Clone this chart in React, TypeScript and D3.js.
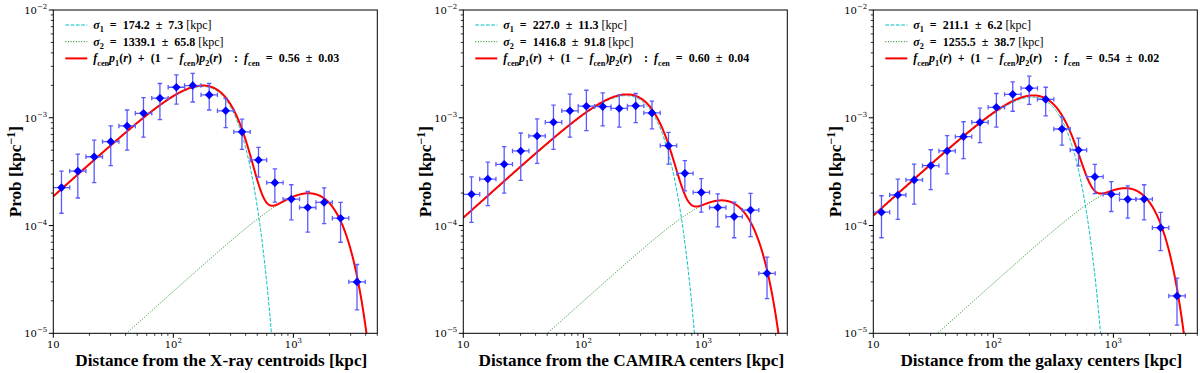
import React from "react";
import * as d3 from "d3";

// radial bins (kpc), shared by the three panels
const binEdges = [10, 13.7, 18.7, 25.7, 35.2, 48.2, 66.1, 90.5, 124, 170, 233, 319, 437, 599, 821, 1125, 1541, 2112, 2894, 3966];
const binCenters = [11.7, 16.0, 21.9, 30.1, 41.2, 56.4, 77.3, 106, 145, 199, 273, 373, 512, 701, 961, 1317, 1804, 2472, 3388];

// measured probability and errors
const xrayProb = [2.25e-4, 3.2e-4, 4.35e-4, 6.0e-4, 8.4e-4, 1.1e-3, 1.52e-3, 1.92e-3, 1.99e-3, 1.63e-3, 1.16e-3, 7.4e-4, 4.06e-4, 2.5e-4, 1.76e-4, 1.47e-4, 1.64e-4, 1.17e-4, 3.0e-5];
const xrayErr = [0.95e-4, 1.4e-4, 1.85e-4, 2.4e-4, 3.4e-4, 4.4e-4, 5.6e-4, 5.8e-4, 5.9e-4, 4.5e-4, 3.5e-4, 2.3e-4, 1.25e-4, 0.85e-4, 0.63e-4, 0.6e-4, 0.6e-4, 0.47e-4, 1.35e-5];
const camiraProb = [1.95e-4, 2.7e-4, 3.7e-4, 4.92e-4, 6.78e-4, 9.08e-4, 1.16e-3, 1.28e-3, 1.27e-3, 1.22e-3, 1.29e-3, 1.11e-3, 5.51e-4, 3.05e-4, 2.03e-4, 1.47e-4, 1.21e-4, 1.39e-4, 3.6e-5];
const camiraErr = [0.88e-4, 1.17e-4, 1.7e-4, 2.3e-4, 3.0e-4, 4.0e-4, 5.0e-4, 5.2e-4, 4.3e-4, 4.0e-4, 3.9e-4, 3.2e-4, 1.8e-4, 0.95e-4, 0.7e-4, 0.5e-4, 0.44e-4, 0.6e-4, 1.5e-5];
const galaxyProb = [1.33e-4, 1.92e-4, 2.65e-4, 3.6e-4, 4.92e-4, 6.68e-4, 9.08e-4, 1.25e-3, 1.65e-3, 1.88e-3, 1.48e-3, 7.87e-4, 5.02e-4, 2.84e-4, 1.95e-4, 1.75e-4, 1.76e-4, 9.55e-5, 2.22e-5];
const galaxyErr = [0.56e-4, 0.78e-4, 1.07e-4, 1.45e-4, 1.9e-4, 2.5e-4, 3.2e-4, 4.3e-4, 5.0e-4, 5.5e-4, 4.4e-4, 2.3e-4, 1.45e-4, 0.86e-4, 0.6e-4, 0.58e-4, 0.63e-4, 0.37e-4, 1.03e-5];

// fitted parameters (from the legends)
const sigma1 = [174.2, 227.0, 211.1];
const sigma1Err = [7.3, 11.3, 6.2];
const sigma2 = [1339.1, 1416.8, 1255.5];
const sigma2Err = [65.8, 91.8, 38.7];
const fcen = [0.56, 0.6, 0.54];
const fcenErr = [0.03, 0.04, 0.02];

const xLabels = [
  "Distance from the X-ray centroids [kpc]",
  "Distance from the CAMIRA centers [kpc]",
  "Distance from the galaxy centers [kpc]",
];
const probs = [xrayProb, camiraProb, galaxyProb];
const errs = [xrayErr, camiraErr, galaxyErr];

const xTicks = [10, 100, 1000];
const yTicks = [1e-5, 1e-4, 1e-3, 1e-2];

const panelLeft = [53.3, 463.3, 873.3];
const plotW = 324;
const plotTop = 10;
const plotH = 323.3;
const serif = "'Liberation Serif', 'DejaVu Serif', serif";
const tickFont = "'DejaVu Serif', serif";
const sp = "\u2002"; // wider math spacing around operators

// 2D gaussian offset distribution
const rayleigh = (r: number, s: number) => (r / (s * s)) * Math.exp(-(r * r) / (2 * s * s));

type Part = { t: string; sub?: string; it?: boolean; normal?: boolean };

const MathText = ({ parts, size }: { parts: Part[]; size: number }) => {
  const out: any[] = [];
  const shift = size * 0.28;
  let pending = 0;
  parts.forEach((p, i) => {
    out.push(
      <tspan
        key={"m" + i}
        dy={pending || undefined}
        fontStyle={p.it ? "italic" : "normal"}
        fontWeight={p.normal ? "normal" : "bold"}
      >
        {p.t}
      </tspan>
    );
    pending = 0;
    if (p.sub) {
      out.push(
        <tspan key={"s" + i} fontSize={size * 0.68} dy={shift} fontWeight="bold" fontStyle="normal">
          {p.sub}
        </tspan>
      );
      pending = -shift;
    }
  });
  return <>{out}</>;
};

const Panel = ({ idx }: { idx: number }) => {
  const x = d3.scaleLog().domain([10, 5000]).range([0, plotW]);
  const y = d3.scaleLog().domain([1e-5, 1e-2]).range([plotH, 0]);
  const s1 = sigma1[idx];
  const s2 = sigma2[idx];
  const f = fcen[idx];

  const rs = d3.range(0, 801).map((i) => 10 * Math.pow(500, i / 800));
  const yy = (v: number) => y(Math.max(v, 1e-9));
  const line = d3
    .line<number[]>()
    .x((d) => x(d[0]))
    .y((d) => yy(d[1]));
  const c1 = line(rs.map((r) => [r, f * rayleigh(r, s1)]));
  const c2 = line(rs.map((r) => [r, (1 - f) * rayleigh(r, s2)]));
  const tot = line(rs.map((r) => [r, f * rayleigh(r, s1) + (1 - f) * rayleigh(r, s2)]));

  const minorX: number[] = [];
  [10, 100, 1000].forEach((d) => {
    for (let k = 2; k <= 9; k++) if (d * k <= 5000) minorX.push(d * k);
  });
  const minorY: number[] = [];
  [1e-5, 1e-4, 1e-3].forEach((d) => {
    for (let k = 2; k <= 9; k++) minorY.push(d * k);
  });

  const prob = probs[idx];
  const err = errs[idx];
  const ebColor = "#5a5aff";
  const cap = 2.2;
  const clipId = "clip" + idx;
  const fs = 12;

  const legend = [
    {
      parts: [
        { t: "σ", it: true, sub: "1" },
        { t: `${sp}=${sp}${sigma1[idx].toFixed(1)}${sp}±${sp}${sigma1Err[idx].toFixed(1)} ` },
        { t: "[kpc]", normal: true },
      ],
      kind: "c",
    },
    {
      parts: [
        { t: "σ", it: true, sub: "2" },
        { t: `${sp}=${sp}${sigma2[idx].toFixed(1)}${sp}±${sp}${sigma2Err[idx].toFixed(1)} ` },
        { t: "[kpc]", normal: true },
      ],
      kind: "g",
    },
    {
      parts: [
        { t: "f", it: true, sub: "cen" },
        { t: "p", it: true, sub: "1" },
        { t: "(" },
        { t: "r", it: true },
        { t: `)${sp}+${sp}(1${sp}−${sp}` },
        { t: "f", it: true, sub: "cen" },
        { t: ")" },
        { t: "p", it: true, sub: "2" },
        { t: "(" },
        { t: "r", it: true },
        { t: `)${sp}${sp}:${sp}` },
        { t: "f", it: true, sub: "cen" },
        { t: `${sp}=${sp}${fcen[idx].toFixed(2)}${sp}±${sp}${fcenErr[idx].toFixed(2)}` },
      ],
      kind: "r",
    },
  ];

  return (
    <g transform={`translate(${panelLeft[idx]},${plotTop})`}>
      <defs>
        <clipPath id={clipId}>
          <rect x={0} y={0} width={plotW} height={plotH} />
        </clipPath>
      </defs>
      <g clipPath={`url(#${clipId})`}>
        <path d={c1 || ""} fill="none" stroke="#00bfbf" strokeWidth={1} strokeDasharray="3.7,1.6" />
        <path d={c2 || ""} fill="none" stroke="#008000" strokeWidth={1} strokeDasharray="1,1.65" />
        <path d={tot || ""} fill="none" stroke="#ff0000" strokeWidth={2} />
        {prob.map((v, i) => {
          const cx = x(binCenters[i]);
          const cy = y(v);
          const x0 = x(binEdges[i]);
          const x1 = x(binEdges[i + 1]);
          const y0 = y(v + err[i]);
          const y1 = y(Math.max(v - err[i], 1e-9));
          return (
            <g key={i} stroke={ebColor} strokeWidth={1.3}>
              <line x1={x0} x2={x1} y1={cy} y2={cy} />
              <line x1={x0} x2={x0} y1={cy - cap} y2={cy + cap} />
              <line x1={x1} x2={x1} y1={cy - cap} y2={cy + cap} />
              <line x1={cx} x2={cx} y1={y0} y2={y1} />
              <line x1={cx - cap} x2={cx + cap} y1={y0} y2={y0} />
              <line x1={cx - cap} x2={cx + cap} y1={y1} y2={y1} />
              <path
                d={`M${cx},${cy - 4.3}L${cx + 4.3},${cy}L${cx},${cy + 4.3}L${cx - 4.3},${cy}Z`}
                fill="#0000ff"
                stroke="none"
              />
            </g>
          );
        })}
      </g>

      {/* legend */}
      {legend.map((l, i) => {
        const ly = 15 + i * 16.7;
        return (
          <g key={i}>
            {l.kind === "c" && <line x1={12} x2={34} y1={ly} y2={ly} stroke="#00bfbf" strokeWidth={1} strokeDasharray="3.7,1.6" />}
            {l.kind === "g" && <line x1={12} x2={34} y1={ly} y2={ly} stroke="#008000" strokeWidth={1} strokeDasharray="1,1.65" />}
            {l.kind === "r" && <line x1={12} x2={34} y1={ly} y2={ly} stroke="#ff0000" strokeWidth={2} />}
            <text x={40} y={ly + 4} fontFamily={serif} fontSize={fs} fill="#000">
              <MathText parts={l.parts} size={fs} />
            </text>
          </g>
        );
      })}

      {/* frame */}
      <rect x={0} y={0} width={plotW} height={plotH} fill="none" stroke="#000" strokeWidth={1} />

      {/* x ticks */}
      {minorX.map((t) => (
        <line key={"mx" + t} x1={x(t)} x2={x(t)} y1={plotH} y2={plotH + 2.5} stroke="#000" strokeWidth={0.8} />
      ))}
      {xTicks.map((t) => (
        <g key={"x" + t}>
          <line x1={x(t)} x2={x(t)} y1={plotH} y2={plotH + 4.5} stroke="#000" strokeWidth={1} />
          <text x={x(t)} y={plotH + 15} fontFamily={tickFont} fontSize={10} textAnchor="middle">
            10
            {t > 10 && (
              <tspan fontSize={7} dy={-5}>
                {Math.round(Math.log10(t))}
              </tspan>
            )}
          </text>
        </g>
      ))}

      {/* y ticks */}
      {minorY.map((t) => (
        <line key={"my" + t} x1={-2.5} x2={0} y1={y(t)} y2={y(t)} stroke="#000" strokeWidth={0.8} />
      ))}
      {yTicks.map((t) => (
        <g key={"y" + t}>
          <line x1={-4.5} x2={0} y1={y(t)} y2={y(t)} stroke="#000" strokeWidth={1} />
          <text x={-6} y={y(t) + 4} fontFamily={tickFont} fontSize={10} textAnchor="end">
            10
            <tspan fontSize={7} dy={-5}>
              {"−" + Math.round(-Math.log10(t))}
            </tspan>
          </text>
        </g>
      ))}

      {/* axis labels */}
      <text x={plotW / 2 + 6} y={plotH + 33} fontFamily={serif} fontSize={17.2} fontWeight="bold" textAnchor="middle">
        {xLabels[idx]}
      </text>
      <text
        transform={`translate(${-32},${plotH / 2}) rotate(-90)`}
        fontFamily={serif}
        fontSize={17.2}
        fontWeight="bold"
        textAnchor="middle"
      >
        Prob [kpc
        <tspan fontSize={12} dy={-6}>
          −1
        </tspan>
        <tspan dy={6}>]</tspan>
      </text>
    </g>
  );
};

const App = () => {
  return (
    <svg
      width={1200}
      height={373}
      style={{ position: "absolute", left: 0, top: 0, background: "#fff" }}
    >
      <rect width={1200} height={373} fill="#fff" />
      {[0, 1, 2].map((i) => (
        <Panel key={i} idx={i} />
      ))}
    </svg>
  );
};

export default App;
